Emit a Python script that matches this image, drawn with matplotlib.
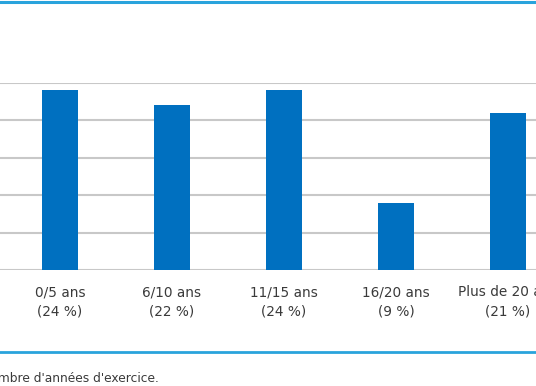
import numpy as np
import matplotlib.pyplot as plt

categories = ["0/5 ans", "6/10 ans", "11/15 ans", "16/20 ans", "Plus de 20 ans"]
shares = [24, 22, 24, 9, 21]
share_labels = ["(24 %)", "(22 %)", "(24 %)", "(9 %)", "(21 %)"]
grid_ticks = [0, 5, 10, 15, 20, 25]
footnote = "Nombre d'années d'exercice."

BLUE = "#0070c0"
LINE = "#29a3dc"
TEXT = "#3a3a3a"

fig = plt.figure(figsize=(5.36, 3.86), dpi=100)

# zone des barres : de y=270 px (0 %) à y=82.5 px (25 %)
ax = fig.add_axes([0, (386 - 270) / 386, 1, 187.5 / 386])
x = np.arange(len(categories))
ax.bar(x, shares, width=0.32, color=BLUE, zorder=3)
ax.set_xlim(-60 / 112, 476 / 112)
ax.set_ylim(0, 25)
ax.set_yticks(grid_ticks)
ax.yaxis.grid(True, color="#c8c8c8", linewidth=1.5, zorder=0)
ax.set_axisbelow(True)
ax.tick_params(left=False, bottom=False, labelleft=False, labelbottom=False)
for s in ax.spines.values():
    s.set_visible(False)
ax.patch.set_alpha(0)

# étiquettes des catégories
for xi, cat, lab in zip(x, categories, share_labels):
    ax.annotate(cat + "\n" + lab, xy=(xi, 0), xycoords="data",
                xytext=(0, -15), textcoords="offset pixels",
                ha="center", va="top", fontsize=9.8, color=TEXT,
                linespacing=1.5, annotation_clip=False)

# filets bleus
fig.add_artist(plt.Line2D([0, 1], [1 - 1.5 / 386] * 2, color=LINE, linewidth=2.2,
                          transform=fig.transFigure))
fig.add_artist(plt.Line2D([0, 1], [1 - 352 / 386] * 2, color=LINE, linewidth=2,
                          transform=fig.transFigure))

fig.text(-0.036, 1 - 379 / 386, footnote, ha="left", va="center",
         fontsize=8.8, color=TEXT)

fig.savefig("out.png", dpi=100)
